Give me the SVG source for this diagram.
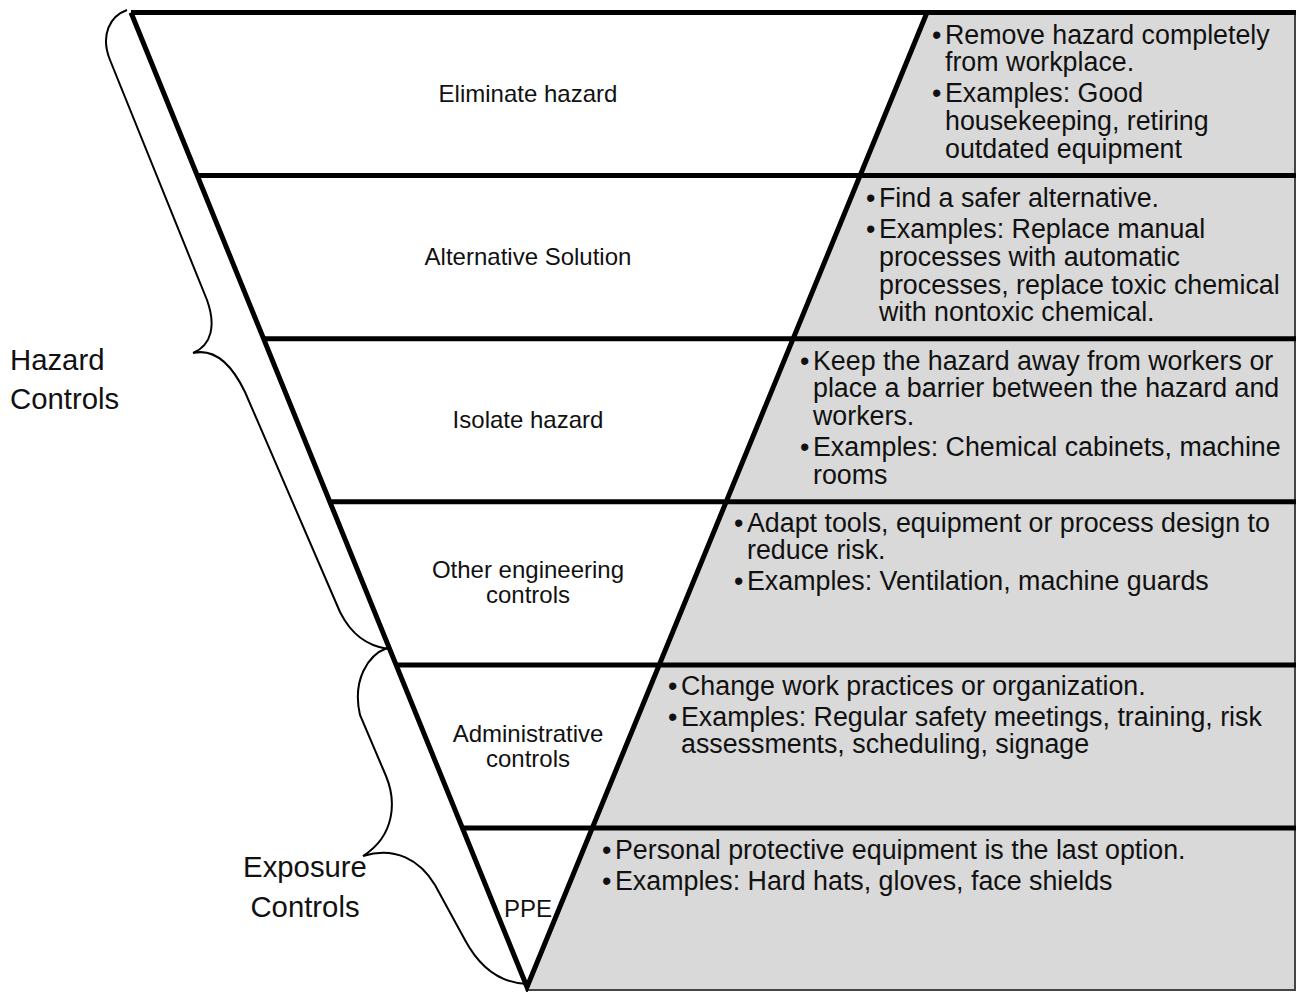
<svg xmlns="http://www.w3.org/2000/svg" width="1297" height="992" viewBox="0 0 1297 992">
<style>
.lbl{font-family:"Liberation Sans",Arial,sans-serif;font-size:24px;fill:#111;text-anchor:middle}
.side{font-family:"Liberation Sans",Arial,sans-serif;font-size:29.3px;fill:#111}
.desc{font-family:"Liberation Sans",Arial,sans-serif;font-size:26.8px;fill:#111}
.bar{stroke:#000;stroke-width:5;fill:none}
.brace{stroke:#000;stroke-width:2;fill:none}
</style>
<rect x="0" y="0" width="1297" height="992" fill="#fff"/>
<polygon points="927,12 1295,12 1295,990 527,990" fill="#d9d9d9" stroke="#444" stroke-width="2"/>
<g id="level-eliminate">
<line class="bar" x1="131" y1="12.5" x2="1296" y2="12.5"/>
<text class="lbl" x="528" y="102">Eliminate hazard</text>
<text class="desc"><tspan x="932" y="43.5">•</tspan><tspan x="945" y="43.5">Remove hazard completely</tspan><tspan x="945" y="71.3">from workplace.</tspan><tspan x="932" y="102">•</tspan><tspan x="945" y="102">Examples: Good</tspan><tspan x="945" y="129.8">housekeeping, retiring</tspan><tspan x="945" y="157.6">outdated equipment</tspan></text>
</g>
<g id="level-alternative">
<line class="bar" x1="198" y1="175.6" x2="1296" y2="175.6"/>
<text class="lbl" x="528" y="265">Alternative Solution</text>
<text class="desc"><tspan x="866" y="207">•</tspan><tspan x="879" y="207">Find a safer alternative.</tspan><tspan x="866" y="238">•</tspan><tspan x="879" y="238">Examples: Replace manual</tspan><tspan x="879" y="265.8">processes with automatic</tspan><tspan x="879" y="293.6">processes, replace toxic chemical</tspan><tspan x="879" y="321.4">with nontoxic chemical.</tspan></text>
</g>
<g id="level-isolate">
<line class="bar" x1="264" y1="338.7" x2="1296" y2="338.7"/>
<text class="lbl" x="528" y="428">Isolate hazard</text>
<text class="desc"><tspan x="800" y="369.5">•</tspan><tspan x="813" y="369.5">Keep the hazard away from workers or</tspan><tspan x="813" y="397.3">place a barrier between the hazard and</tspan><tspan x="813" y="425.1">workers.</tspan><tspan x="800" y="456.1">•</tspan><tspan x="813" y="456.1">Examples: Chemical cabinets, machine</tspan><tspan x="813" y="483.9">rooms</tspan></text>
</g>
<g id="level-engineering">
<line class="bar" x1="330" y1="501.8" x2="1296" y2="501.8"/>
<text class="lbl" x="528" y="578">Other engineering</text>
<text class="lbl" x="528" y="603">controls</text>
<text class="desc"><tspan x="734" y="531.5">•</tspan><tspan x="747" y="531.5">Adapt tools, equipment or process design to</tspan><tspan x="747" y="559.3">reduce risk.</tspan><tspan x="734" y="590.3">•</tspan><tspan x="747" y="590.3">Examples: Ventilation, machine guards</tspan></text>
</g>
<g id="level-administrative">
<line class="bar" x1="396" y1="664.9" x2="1296" y2="664.9"/>
<text class="lbl" x="528" y="742">Administrative</text>
<text class="lbl" x="528" y="767">controls</text>
<text class="desc"><tspan x="668" y="694.5">•</tspan><tspan x="681" y="694.5">Change work practices or organization.</tspan><tspan x="668" y="725.5">•</tspan><tspan x="681" y="725.5">Examples: Regular safety meetings, training, risk</tspan><tspan x="681" y="753.3">assessments, scheduling, signage</tspan></text>
</g>
<g id="level-ppe">
<line class="bar" x1="462" y1="828" x2="1296" y2="828"/>
<text class="lbl" x="528" y="917">PPE</text>
<text class="desc"><tspan x="602" y="858.5">•</tspan><tspan x="615" y="858.5">Personal protective equipment is the last option.</tspan><tspan x="602" y="889.5">•</tspan><tspan x="615" y="889.5">Examples: Hard hats, gloves, face shields</tspan></text>
</g>
<g id="triangle">
<polyline class="bar" points="131,12.5 527,987 927,12.5"/>
</g>
<g id="connectors">
<path id="brace-hazard" class="brace" d="M127,10 C110,16 100,35 110,60 L207,300 C216,325 212,345 193,353 C215,348 232,365 245,392 L340,612 C352,636 368,646 388,649"/>
<path id="brace-exposure" class="brace" d="M387,648 C368,655 352,680 360,715 L386,776 C396,800 396,835 363,856 C395,846 420,860 435,885 L465,940 C480,968 500,983 527,984"/>
</g>
<g id="hazard-controls">
<text class="side" x="10" y="370">Hazard</text>
<text class="side" x="10" y="409">Controls</text>
</g>
<g id="exposure-controls">
<text class="side" x="305" y="877" text-anchor="middle">Exposure</text>
<text class="side" x="305" y="917" text-anchor="middle">Controls</text>
</g>
</svg>
